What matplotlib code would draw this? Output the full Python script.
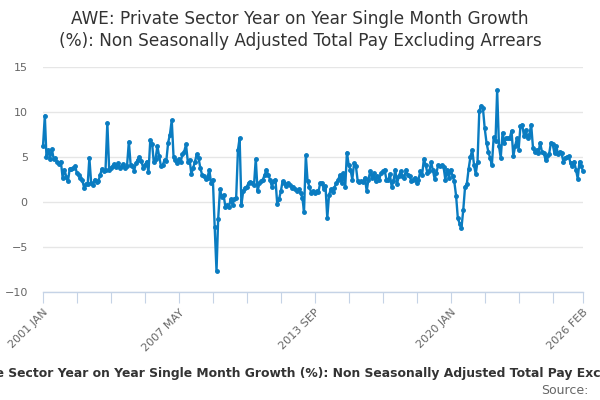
import pandas as pd
import matplotlib
matplotlib.use("Agg")
import matplotlib.pyplot as plt

# monthly values, 2001 Jan .. 2026 Feb
growth_2001_2004 = [
    6.2, 9.6, 5.0, 5.8, 4.8, 5.9, 4.8, 4.9, 4.4, 4.2, 4.5, 2.7,
    3.6, 2.8, 2.3, 3.7, 3.7, 3.8, 4.0, 3.2, 3.0, 2.7, 2.4, 1.6,
    2.0, 2.0, 4.9, 2.1, 1.9, 2.5, 2.2, 2.3, 3.0, 3.7, 3.5, 3.6,
    8.8, 3.6, 3.8, 4.0, 4.2, 3.9, 4.3, 3.8, 4.0, 4.2, 3.8, 4.0,
]
growth_2005_2009 = [
    6.7, 4.1, 4.0, 3.5, 4.3, 4.7, 5.0, 4.6, 3.8, 4.1, 4.5, 3.3,
    6.9, 6.5, 4.4, 4.8, 6.2, 5.1, 4.0, 4.1, 4.7, 4.6, 6.6, 7.5,
    9.1, 5.0, 4.7, 4.3, 4.8, 4.4, 5.3, 5.6, 6.4, 4.5, 4.7, 3.1,
    3.8, 4.5, 5.3, 4.9, 3.8, 3.0, 2.9, 2.6, 2.7, 3.6, 2.1, 2.5,
    -2.8, -7.7, -1.9, 1.4, 0.6, 0.8, -0.5, -0.3, -0.5, 0.3, -0.3, 0.3,
]
growth_2010_2013 = [
    0.4, 5.8, 7.1, -0.3, 1.2, 1.6, 1.7, 2.1, 2.2, 2.1, 1.9, 4.8,
    1.2, 2.1, 2.3, 2.5, 3.0, 3.6, 3.0, 2.5, 1.7, 2.3, 2.5, -0.2,
    0.3, 1.2, 2.3, 2.1, 1.8, 2.1, 1.9, 1.6, 1.7, 1.4, 1.2, 1.4,
    1.0, 0.5, -1.1, 5.2, 2.3, 1.7, 1.0, 1.2, 1.0, 1.2, 1.1, 2.1,
]
growth_2014_2018 = [
    2.1, 1.4, 1.8, -1.8, 0.8, 1.4, 1.1, 1.6, 2.1, 2.4, 3.0, 2.1,
    3.2, 1.7, 5.5, 4.1, 3.6, 2.5, 4.3, 4.0, 2.3, 2.2, 2.3, 2.2,
    2.7, 1.2, 2.5, 3.4, 2.7, 3.2, 2.3, 2.9, 2.5, 3.2, 3.4, 3.6,
    2.5, 2.4, 3.1, 1.7, 2.3, 3.6, 2.0, 2.9, 3.4, 2.9, 2.7, 3.6,
    3.0, 2.9, 2.3, 2.5, 2.7, 2.1, 2.5, 3.4, 3.0, 4.8, 4.1, 3.2,
]
growth_2019_2022 = [
    3.4, 4.4, 3.6, 2.6, 3.2, 4.1, 4.0, 4.1, 3.9, 2.5, 3.6, 2.7,
    3.6, 2.9, 2.3, 0.7, -1.8, -2.4, -2.9, -0.9, 1.7, 2.0, 3.7, 5.0,
    5.8, 4.1, 3.1, 4.5, 10.1, 10.7, 10.5, 8.2, 6.6, 5.6, 4.9, 4.1,
    7.2, 6.8, 12.4, 6.2, 4.9, 7.7, 6.6, 7.1, 7.1, 7.1, 7.9, 5.1,
]
growth_2023_2026 = [
    6.2, 7.1, 5.8, 8.4, 8.6, 7.3, 8.0, 7.1, 7.5, 8.6, 6.0, 5.6,
    5.8, 5.4, 6.6, 5.6, 5.5, 4.7, 5.1, 5.3, 6.6, 6.4, 5.4, 6.2,
    5.3, 5.6, 5.4, 4.5, 4.9, 5.0, 5.1, 4.3, 4.0, 4.5, 3.6, 2.6,
    4.5, 4.0, 3.4,
]
growth = (growth_2001_2004 + growth_2005_2009 + growth_2010_2013
          + growth_2014_2018 + growth_2019_2022 + growth_2023_2026)

dates = pd.date_range("2001-01-01", periods=len(growth), freq="MS")
tick_idx = list(range(0, len(growth) - 1, 19)) + [len(growth) - 1]
tick_names = {0: "2001 JAN", 76: "2007 MAY", 152: "2013 SEP",
              228: "2020 JAN", len(growth) - 1: "2026 FEB"}

line_col = "#0a7cc1"
axis_col = "#c5d3e6"
text_col = "#666666"

fig = plt.figure(figsize=(6, 4), dpi=100)
ax = fig.add_axes([43 / 600, 108 / 400, 540 / 600, 225 / 400])

ax.plot(dates, growth, color=line_col, linewidth=1.7, marker="o",
        markersize=2.5, clip_on=False, zorder=3)

ax.set_ylim(-10, 15)
ax.set_xlim(dates[0], dates[-1])
ax.set_yticks([-10, -5, 0, 5, 10, 15])
ax.yaxis.grid(True, color="#e6e6e6", linewidth=1)
ax.set_axisbelow(True)
for s in ["top", "right", "left"]:
    ax.spines[s].set_visible(False)
ax.spines["bottom"].set_color(axis_col)
ax.spines["bottom"].set_linewidth(1)

ax.tick_params(axis="y", length=0, labelsize=8, labelcolor=text_col, pad=11)
ax.set_xticks([dates[i] for i in tick_idx])
ax.set_xticklabels([tick_names.get(i, "") for i in tick_idx], rotation=45,
                   ha="right", rotation_mode="anchor")
ax.tick_params(axis="x", length=8, color=axis_col, labelsize=8,
               labelcolor=text_col, pad=3)

fig.text(0.5, 0.953, "AWE: Private Sector Year on Year Single Month Growth",
         ha="center", va="center", fontsize=12.2, color="#333333")
fig.text(0.5, 0.898, "(%): Non Seasonally Adjusted Total Pay Excluding Arrears",
         ha="center", va="center", fontsize=12.2, color="#333333")

# long axis title runs past both edges in the reference as well
fig.text(0.545, 0.065,
         "Private Sector Year on Year Single Month Growth (%): "
         "Non Seasonally Adjusted Total Pay Excluding Arrears",
         ha="center", va="center", fontsize=8.9, fontweight="bold",
         color="#333333")
fig.text(0.98, 0.025, "Source:", ha="right", va="center", fontsize=9,
         color=text_col)

fig.savefig("out.png", dpi=100)
